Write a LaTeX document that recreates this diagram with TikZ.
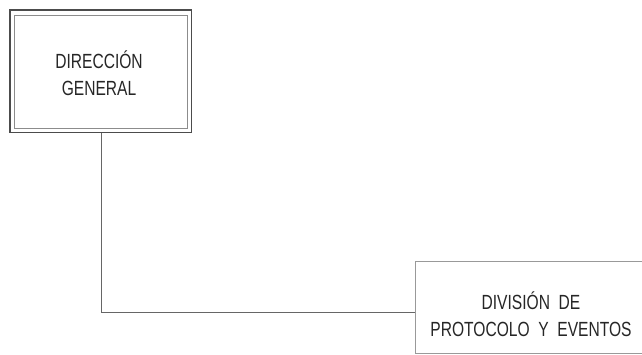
\documentclass[tikz,border=0pt]{standalone}
\usepackage{fontspec}
\setmainfont[FakeStretch=0.76]{Liberation Sans}
\begin{document}
\begin{tikzpicture}[x=1pt,y=-1pt,
  boxline/.style={draw=black!70,line width=1.1pt},
  innerline/.style={draw=black!45,line width=0.9pt},
  link/.style={draw=black!60,line width=1pt},
  label/.style={align=center,font=\fontsize{20.5}{26.5}\selectfont,text=black!85,inner sep=0pt}]
  \useasboundingbox (0,0) rectangle (642,354);
  % top box: double frame
  \draw[boxline] (10,10) rectangle (191.5,132.5);
  \draw[innerline] (14.5,15) rectangle (187.5,128);
  \node[label] (dg) at (99,73) {DIRECCIÓN\\GENERAL};
  \coordinate (dgb) at (101,132.5);
  % lower box, running off the page edge
  \begin{scope}
    \clip (0,0) rectangle (642,354);
    \draw[draw=black!40,line width=1pt] (415,261) rectangle (660,353);
  \end{scope}
  \coordinate (dpe) at (415,312);
  \node[label] (dp) at (531,314) {DIVISIÓN\ \ DE\\PROTOCOLO\ \ Y\ \ EVENTOS};
  % connector
  \draw[link] (dgb) |- (dpe);
\end{tikzpicture}
\end{document}
